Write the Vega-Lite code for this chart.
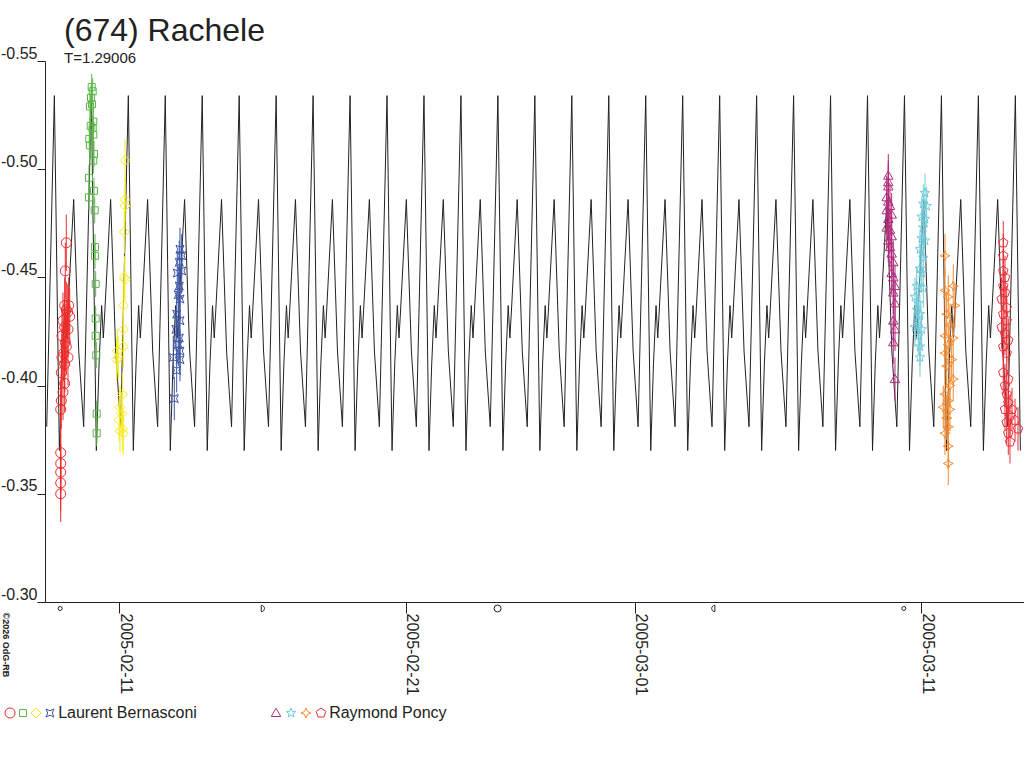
{
  "$schema": "https://vega.github.io/schema/vega-lite/v6.json",
  "width": 979,
  "height": 541,
  "padding": {"left": 0, "top": 15, "right": 0, "bottom": 0},
  "background": "white",
  "title": {
    "text": "(674) Rachele",
    "subtitle": "T=1.29006",
    "anchor": "start",
    "frame": "group",
    "dx": 19,
    "offset": -22,
    "fontSize": 32,
    "fontWeight": "normal",
    "color": "#222",
    "subtitleFontSize": 15,
    "subtitleColor": "#222",
    "subtitlePadding": 3
  },
  "datasets": {
    "model": [
      {"t": 9.967, "v": -0.381},
      {"t": 10.234, "v": -0.534}, {"t": 10.409, "v": -0.370}, {"t": 10.504, "v": -0.410}, {"t": 10.594, "v": -0.437}, {"t": 10.653, "v": -0.422}, {"t": 10.704, "v": -0.434}, {"t": 10.908, "v": -0.486}, {"t": 11.084, "v": -0.416}, {"t": 11.257, "v": -0.381},
      {"t": 11.524, "v": -0.534}, {"t": 11.699, "v": -0.370}, {"t": 11.794, "v": -0.410}, {"t": 11.884, "v": -0.437}, {"t": 11.943, "v": -0.422}, {"t": 11.994, "v": -0.434}, {"t": 12.198, "v": -0.486}, {"t": 12.374, "v": -0.416}, {"t": 12.547, "v": -0.381},
      {"t": 12.815, "v": -0.534}, {"t": 12.990, "v": -0.370}, {"t": 13.085, "v": -0.410}, {"t": 13.175, "v": -0.437}, {"t": 13.234, "v": -0.422}, {"t": 13.285, "v": -0.434}, {"t": 13.489, "v": -0.486}, {"t": 13.665, "v": -0.416}, {"t": 13.838, "v": -0.381},
      {"t": 14.105, "v": -0.534}, {"t": 14.280, "v": -0.370}, {"t": 14.375, "v": -0.410}, {"t": 14.465, "v": -0.437}, {"t": 14.524, "v": -0.422}, {"t": 14.575, "v": -0.434}, {"t": 14.779, "v": -0.486}, {"t": 14.955, "v": -0.416}, {"t": 15.128, "v": -0.381},
      {"t": 15.395, "v": -0.534}, {"t": 15.570, "v": -0.370}, {"t": 15.665, "v": -0.410}, {"t": 15.755, "v": -0.437}, {"t": 15.814, "v": -0.422}, {"t": 15.865, "v": -0.434}, {"t": 16.069, "v": -0.486}, {"t": 16.245, "v": -0.416}, {"t": 16.418, "v": -0.381},
      {"t": 16.685, "v": -0.534}, {"t": 16.860, "v": -0.370}, {"t": 16.955, "v": -0.410}, {"t": 17.045, "v": -0.437}, {"t": 17.104, "v": -0.422}, {"t": 17.155, "v": -0.434}, {"t": 17.359, "v": -0.486}, {"t": 17.535, "v": -0.416}, {"t": 17.708, "v": -0.381},
      {"t": 17.975, "v": -0.534}, {"t": 18.150, "v": -0.370}, {"t": 18.245, "v": -0.410}, {"t": 18.335, "v": -0.437}, {"t": 18.394, "v": -0.422}, {"t": 18.445, "v": -0.434}, {"t": 18.649, "v": -0.486}, {"t": 18.825, "v": -0.416}, {"t": 18.998, "v": -0.381},
      {"t": 19.265, "v": -0.534}, {"t": 19.440, "v": -0.370}, {"t": 19.535, "v": -0.410}, {"t": 19.625, "v": -0.437}, {"t": 19.684, "v": -0.422}, {"t": 19.735, "v": -0.434}, {"t": 19.939, "v": -0.486}, {"t": 20.115, "v": -0.416}, {"t": 20.288, "v": -0.381},
      {"t": 20.555, "v": -0.534}, {"t": 20.730, "v": -0.370}, {"t": 20.825, "v": -0.410}, {"t": 20.915, "v": -0.437}, {"t": 20.974, "v": -0.422}, {"t": 21.025, "v": -0.434}, {"t": 21.229, "v": -0.486}, {"t": 21.405, "v": -0.416}, {"t": 21.578, "v": -0.381},
      {"t": 21.845, "v": -0.534}, {"t": 22.020, "v": -0.370}, {"t": 22.115, "v": -0.410}, {"t": 22.205, "v": -0.437}, {"t": 22.264, "v": -0.422}, {"t": 22.315, "v": -0.434}, {"t": 22.519, "v": -0.486}, {"t": 22.695, "v": -0.416}, {"t": 22.868, "v": -0.381},
      {"t": 23.135, "v": -0.534}, {"t": 23.310, "v": -0.370}, {"t": 23.405, "v": -0.410}, {"t": 23.495, "v": -0.437}, {"t": 23.554, "v": -0.422}, {"t": 23.605, "v": -0.434}, {"t": 23.809, "v": -0.486}, {"t": 23.985, "v": -0.416}, {"t": 24.158, "v": -0.381},
      {"t": 24.425, "v": -0.534}, {"t": 24.600, "v": -0.370}, {"t": 24.695, "v": -0.410}, {"t": 24.785, "v": -0.437}, {"t": 24.844, "v": -0.422}, {"t": 24.895, "v": -0.434}, {"t": 25.099, "v": -0.486}, {"t": 25.275, "v": -0.416}, {"t": 25.448, "v": -0.381},
      {"t": 25.715, "v": -0.534}, {"t": 25.890, "v": -0.370}, {"t": 25.985, "v": -0.410}, {"t": 26.075, "v": -0.437}, {"t": 26.134, "v": -0.422}, {"t": 26.185, "v": -0.434}, {"t": 26.389, "v": -0.486}, {"t": 26.565, "v": -0.416}, {"t": 26.738, "v": -0.381},
      {"t": 27.005, "v": -0.534}, {"t": 27.180, "v": -0.370}, {"t": 27.275, "v": -0.410}, {"t": 27.365, "v": -0.437}, {"t": 27.424, "v": -0.422}, {"t": 27.475, "v": -0.434}, {"t": 27.679, "v": -0.486}, {"t": 27.855, "v": -0.416}, {"t": 28.028, "v": -0.381},
      {"t": 28.295, "v": -0.534}, {"t": 28.470, "v": -0.370}, {"t": 28.565, "v": -0.410}, {"t": 28.655, "v": -0.437}, {"t": 28.714, "v": -0.422}, {"t": 28.765, "v": -0.434}, {"t": 28.969, "v": -0.486}, {"t": 29.145, "v": -0.416}, {"t": 29.318, "v": -0.381},
      {"t": 29.585, "v": -0.534}, {"t": 29.760, "v": -0.370}, {"t": 29.855, "v": -0.410}, {"t": 29.945, "v": -0.437}, {"t": 30.004, "v": -0.422}, {"t": 30.055, "v": -0.434}, {"t": 30.259, "v": -0.486}, {"t": 30.435, "v": -0.416}, {"t": 30.608, "v": -0.381},
      {"t": 30.875, "v": -0.534}, {"t": 31.050, "v": -0.370}, {"t": 31.145, "v": -0.410}, {"t": 31.235, "v": -0.437}, {"t": 31.294, "v": -0.422}, {"t": 31.345, "v": -0.434}, {"t": 31.549, "v": -0.486}, {"t": 31.725, "v": -0.416}, {"t": 31.898, "v": -0.381},
      {"t": 32.165, "v": -0.534}, {"t": 32.340, "v": -0.370}, {"t": 32.435, "v": -0.410}, {"t": 32.525, "v": -0.437}, {"t": 32.584, "v": -0.422}, {"t": 32.635, "v": -0.434}, {"t": 32.839, "v": -0.486}, {"t": 33.015, "v": -0.416}, {"t": 33.188, "v": -0.381},
      {"t": 33.456, "v": -0.534}, {"t": 33.631, "v": -0.370}, {"t": 33.726, "v": -0.410}, {"t": 33.816, "v": -0.437}, {"t": 33.875, "v": -0.422}, {"t": 33.926, "v": -0.434}, {"t": 34.130, "v": -0.486}, {"t": 34.306, "v": -0.416}, {"t": 34.479, "v": -0.381},
      {"t": 34.746, "v": -0.534}, {"t": 34.921, "v": -0.370}, {"t": 35.016, "v": -0.410}, {"t": 35.106, "v": -0.437}, {"t": 35.165, "v": -0.422}, {"t": 35.216, "v": -0.434}, {"t": 35.420, "v": -0.486}, {"t": 35.596, "v": -0.416}, {"t": 35.769, "v": -0.381},
      {"t": 36.036, "v": -0.534}, {"t": 36.211, "v": -0.370}, {"t": 36.306, "v": -0.410}, {"t": 36.396, "v": -0.437}, {"t": 36.455, "v": -0.422}, {"t": 36.506, "v": -0.434}, {"t": 36.710, "v": -0.486}, {"t": 36.886, "v": -0.416}, {"t": 37.059, "v": -0.381},
      {"t": 37.326, "v": -0.534}, {"t": 37.501, "v": -0.370}, {"t": 37.596, "v": -0.410}, {"t": 37.686, "v": -0.437}, {"t": 37.745, "v": -0.422}, {"t": 37.796, "v": -0.434}, {"t": 38.000, "v": -0.486}, {"t": 38.176, "v": -0.416}, {"t": 38.349, "v": -0.381},
      {"t": 38.616, "v": -0.534}, {"t": 38.791, "v": -0.370}, {"t": 38.886, "v": -0.410}, {"t": 38.976, "v": -0.437}, {"t": 39.035, "v": -0.422}, {"t": 39.086, "v": -0.434}, {"t": 39.290, "v": -0.486}, {"t": 39.466, "v": -0.416}, {"t": 39.639, "v": -0.381},
      {"t": 39.906, "v": -0.534}, {"t": 40.081, "v": -0.370}, {"t": 40.176, "v": -0.410}, {"t": 40.266, "v": -0.437}, {"t": 40.325, "v": -0.422}, {"t": 40.376, "v": -0.434}, {"t": 40.580, "v": -0.486}, {"t": 40.756, "v": -0.416}, {"t": 40.929, "v": -0.381},
      {"t": 41.196, "v": -0.534}, {"t": 41.371, "v": -0.370}, {"t": 41.466, "v": -0.410}, {"t": 41.556, "v": -0.437}, {"t": 41.615, "v": -0.422}, {"t": 41.666, "v": -0.434}, {"t": 41.870, "v": -0.486}, {"t": 42.046, "v": -0.416}, {"t": 42.219, "v": -0.381},
      {"t": 42.486, "v": -0.534}, {"t": 42.661, "v": -0.370}, {"t": 42.756, "v": -0.410}, {"t": 42.846, "v": -0.437}, {"t": 42.905, "v": -0.422}, {"t": 42.956, "v": -0.434}, {"t": 43.160, "v": -0.486}, {"t": 43.336, "v": -0.416}, {"t": 43.509, "v": -0.381},
      {"t": 43.776, "v": -0.534}, {"t": 43.951, "v": -0.370}
    ],
    "obs": [
      {"s": "LB1", "t": 10.455, "v": -0.350},
      {"s": "LB1", "t": 10.455, "v": -0.355},
      {"s": "LB1", "t": 10.455, "v": -0.360},
      {"s": "LB1", "t": 10.455, "v": -0.364},
      {"s": "LB1", "t": 10.455, "v": -0.369},
      {"s": "LB1", "t": 10.455, "v": -0.389},
      {"s": "LB1", "t": 10.476, "v": -0.393},
      {"s": "LB1", "t": 10.535, "v": -0.397},
      {"s": "LB1", "t": 10.594, "v": -0.401},
      {"s": "LB1", "t": 10.476, "v": -0.406},
      {"s": "LB1", "t": 10.594, "v": -0.410},
      {"s": "LB1", "t": 10.500, "v": -0.413},
      {"s": "LB1", "t": 10.709, "v": -0.413},
      {"s": "LB1", "t": 10.560, "v": -0.415},
      {"s": "LB1", "t": 10.650, "v": -0.418},
      {"s": "LB1", "t": 10.620, "v": -0.420},
      {"s": "LB1", "t": 10.500, "v": -0.423},
      {"s": "LB1", "t": 10.709, "v": -0.426},
      {"s": "LB1", "t": 10.594, "v": -0.427},
      {"s": "LB1", "t": 10.535, "v": -0.430},
      {"s": "LB1", "t": 10.769, "v": -0.432},
      {"s": "LB1", "t": 10.700, "v": -0.434},
      {"s": "LB1", "t": 10.650, "v": -0.435},
      {"s": "LB1", "t": 10.734, "v": -0.437},
      {"s": "LB1", "t": 10.594, "v": -0.437},
      {"s": "LB1", "t": 10.615, "v": -0.453},
      {"s": "LB1", "t": 10.650, "v": -0.466},
      {"s": "LB2", "t": 11.537, "v": -0.538},
      {"s": "LB2", "t": 11.572, "v": -0.536},
      {"s": "LB2", "t": 11.512, "v": -0.533},
      {"s": "LB2", "t": 11.547, "v": -0.530},
      {"s": "LB2", "t": 11.477, "v": -0.529},
      {"s": "LB2", "t": 11.593, "v": -0.522},
      {"s": "LB2", "t": 11.502, "v": -0.520},
      {"s": "LB2", "t": 11.572, "v": -0.519},
      {"s": "LB2", "t": 11.593, "v": -0.516},
      {"s": "LB2", "t": 11.453, "v": -0.514},
      {"s": "LB2", "t": 11.477, "v": -0.511},
      {"s": "LB2", "t": 11.617, "v": -0.507},
      {"s": "LB2", "t": 11.593, "v": -0.504},
      {"s": "LB2", "t": 11.442, "v": -0.496},
      {"s": "LB2", "t": 11.617, "v": -0.490},
      {"s": "LB2", "t": 11.442, "v": -0.487},
      {"s": "LB2", "t": 11.641, "v": -0.481},
      {"s": "LB2", "t": 11.652, "v": -0.464},
      {"s": "LB2", "t": 11.652, "v": -0.460},
      {"s": "LB2", "t": 11.676, "v": -0.447},
      {"s": "LB2", "t": 11.676, "v": -0.431},
      {"s": "LB2", "t": 11.676, "v": -0.423},
      {"s": "LB2", "t": 11.697, "v": -0.414},
      {"s": "LB2", "t": 11.711, "v": -0.387},
      {"s": "LB2", "t": 11.711, "v": -0.378},
      {"s": "LB3", "t": 12.699, "v": -0.504},
      {"s": "LB3", "t": 12.699, "v": -0.486},
      {"s": "LB3", "t": 12.699, "v": -0.483},
      {"s": "LB3", "t": 12.675, "v": -0.471},
      {"s": "LB3", "t": 12.675, "v": -0.450},
      {"s": "LB3", "t": 12.699, "v": -0.449},
      {"s": "LB3", "t": 12.640, "v": -0.437},
      {"s": "LB3", "t": 12.640, "v": -0.426},
      {"s": "LB3", "t": 12.640, "v": -0.418},
      {"s": "LB3", "t": 12.430, "v": -0.416},
      {"s": "LB3", "t": 12.465, "v": -0.413},
      {"s": "LB3", "t": 12.409, "v": -0.412},
      {"s": "LB3", "t": 12.605, "v": -0.396},
      {"s": "LB3", "t": 12.524, "v": -0.390},
      {"s": "LB3", "t": 12.584, "v": -0.387},
      {"s": "LB3", "t": 12.500, "v": -0.384},
      {"s": "LB3", "t": 12.605, "v": -0.380},
      {"s": "LB3", "t": 12.524, "v": -0.379},
      {"s": "LB3", "t": 12.640, "v": -0.378},
      {"s": "LB4", "t": 14.619, "v": -0.463},
      {"s": "LB4", "t": 14.678, "v": -0.460},
      {"s": "LB4", "t": 14.594, "v": -0.457},
      {"s": "LB4", "t": 14.524, "v": -0.452},
      {"s": "LB4", "t": 14.678, "v": -0.453},
      {"s": "LB4", "t": 14.594, "v": -0.446},
      {"s": "LB4", "t": 14.559, "v": -0.442},
      {"s": "LB4", "t": 14.619, "v": -0.440},
      {"s": "LB4", "t": 14.503, "v": -0.433},
      {"s": "LB4", "t": 14.619, "v": -0.430},
      {"s": "LB4", "t": 14.479, "v": -0.426},
      {"s": "LB4", "t": 14.594, "v": -0.422},
      {"s": "LB4", "t": 14.559, "v": -0.419},
      {"s": "LB4", "t": 14.619, "v": -0.416},
      {"s": "LB4", "t": 14.385, "v": -0.413},
      {"s": "LB4", "t": 14.619, "v": -0.412},
      {"s": "LB4", "t": 14.503, "v": -0.407},
      {"s": "LB4", "t": 14.420, "v": -0.394},
      {"s": "RP1", "t": 39.341, "v": -0.497},
      {"s": "RP1", "t": 39.341, "v": -0.494},
      {"s": "RP1", "t": 39.341, "v": -0.492},
      {"s": "RP1", "t": 39.285, "v": -0.487},
      {"s": "RP1", "t": 39.341, "v": -0.485},
      {"s": "RP1", "t": 39.400, "v": -0.483},
      {"s": "RP1", "t": 39.285, "v": -0.481},
      {"s": "RP1", "t": 39.459, "v": -0.479},
      {"s": "RP1", "t": 39.341, "v": -0.477},
      {"s": "RP1", "t": 39.285, "v": -0.473},
      {"s": "RP1", "t": 39.400, "v": -0.472},
      {"s": "RP1", "t": 39.459, "v": -0.469},
      {"s": "RP1", "t": 39.341, "v": -0.467},
      {"s": "RP1", "t": 39.400, "v": -0.464},
      {"s": "RP1", "t": 39.459, "v": -0.461},
      {"s": "RP1", "t": 39.515, "v": -0.457},
      {"s": "RP1", "t": 39.459, "v": -0.452},
      {"s": "RP1", "t": 39.515, "v": -0.450},
      {"s": "RP1", "t": 39.575, "v": -0.446},
      {"s": "RP1", "t": 39.515, "v": -0.443},
      {"s": "RP1", "t": 39.575, "v": -0.438},
      {"s": "RP1", "t": 39.515, "v": -0.430},
      {"s": "RP1", "t": 39.575, "v": -0.426},
      {"s": "RP1", "t": 39.515, "v": -0.420},
      {"s": "RP1", "t": 39.575, "v": -0.403},
      {"s": "RP2", "t": 40.622, "v": -0.489},
      {"s": "RP2", "t": 40.563, "v": -0.484},
      {"s": "RP2", "t": 40.681, "v": -0.483},
      {"s": "RP2", "t": 40.507, "v": -0.478},
      {"s": "RP2", "t": 40.622, "v": -0.477},
      {"s": "RP2", "t": 40.563, "v": -0.473},
      {"s": "RP2", "t": 40.507, "v": -0.468},
      {"s": "RP2", "t": 40.622, "v": -0.467},
      {"s": "RP2", "t": 40.447, "v": -0.463},
      {"s": "RP2", "t": 40.563, "v": -0.459},
      {"s": "RP2", "t": 40.447, "v": -0.454},
      {"s": "RP2", "t": 40.507, "v": -0.452},
      {"s": "RP2", "t": 40.332, "v": -0.446},
      {"s": "RP2", "t": 40.563, "v": -0.445},
      {"s": "RP2", "t": 40.273, "v": -0.441},
      {"s": "RP2", "t": 40.388, "v": -0.438},
      {"s": "RP2", "t": 40.332, "v": -0.435},
      {"s": "RP2", "t": 40.447, "v": -0.433},
      {"s": "RP2", "t": 40.388, "v": -0.430},
      {"s": "RP2", "t": 40.273, "v": -0.427},
      {"s": "RP2", "t": 40.507, "v": -0.426},
      {"s": "RP2", "t": 40.388, "v": -0.423},
      {"s": "RP2", "t": 40.447, "v": -0.418},
      {"s": "RP2", "t": 40.447, "v": -0.413},
      {"s": "RP3", "t": 41.320, "v": -0.460},
      {"s": "RP3", "t": 41.609, "v": -0.446},
      {"s": "RP3", "t": 41.320, "v": -0.444},
      {"s": "RP3", "t": 41.435, "v": -0.441},
      {"s": "RP3", "t": 41.669, "v": -0.437},
      {"s": "RP3", "t": 41.379, "v": -0.433},
      {"s": "RP3", "t": 41.494, "v": -0.428},
      {"s": "RP3", "t": 41.320, "v": -0.423},
      {"s": "RP3", "t": 41.609, "v": -0.422},
      {"s": "RP3", "t": 41.435, "v": -0.419},
      {"s": "RP3", "t": 41.320, "v": -0.415},
      {"s": "RP3", "t": 41.553, "v": -0.412},
      {"s": "RP3", "t": 41.379, "v": -0.409},
      {"s": "RP3", "t": 41.609, "v": -0.403},
      {"s": "RP3", "t": 41.494, "v": -0.400},
      {"s": "RP3", "t": 41.320, "v": -0.396},
      {"s": "RP3", "t": 41.435, "v": -0.393},
      {"s": "RP3", "t": 41.261, "v": -0.390},
      {"s": "RP3", "t": 41.494, "v": -0.389},
      {"s": "RP3", "t": 41.379, "v": -0.385},
      {"s": "RP3", "t": 41.435, "v": -0.381},
      {"s": "RP3", "t": 41.320, "v": -0.378},
      {"s": "RP3", "t": 41.435, "v": -0.372},
      {"s": "RP3", "t": 41.435, "v": -0.364},
      {"s": "RP4", "t": 43.355, "v": -0.466},
      {"s": "RP4", "t": 43.355, "v": -0.460},
      {"s": "RP4", "t": 43.355, "v": -0.453},
      {"s": "RP4", "t": 43.414, "v": -0.450},
      {"s": "RP4", "t": 43.355, "v": -0.446},
      {"s": "RP4", "t": 43.414, "v": -0.443},
      {"s": "RP4", "t": 43.299, "v": -0.440},
      {"s": "RP4", "t": 43.474, "v": -0.436},
      {"s": "RP4", "t": 43.355, "v": -0.433},
      {"s": "RP4", "t": 43.474, "v": -0.430},
      {"s": "RP4", "t": 43.299, "v": -0.427},
      {"s": "RP4", "t": 43.414, "v": -0.424},
      {"s": "RP4", "t": 43.530, "v": -0.421},
      {"s": "RP4", "t": 43.355, "v": -0.418},
      {"s": "RP4", "t": 43.474, "v": -0.415},
      {"s": "RP4", "t": 43.355, "v": -0.406},
      {"s": "RP4", "t": 43.530, "v": -0.403},
      {"s": "RP4", "t": 43.414, "v": -0.400},
      {"s": "RP4", "t": 43.474, "v": -0.396},
      {"s": "RP4", "t": 43.530, "v": -0.392},
      {"s": "RP4", "t": 43.414, "v": -0.389},
      {"s": "RP4", "t": 43.589, "v": -0.386},
      {"s": "RP4", "t": 43.474, "v": -0.383},
      {"s": "RP4", "t": 43.530, "v": -0.378},
      {"s": "RP4", "t": 43.589, "v": -0.374},
      {"s": "RP4", "t": 43.659, "v": -0.389},
      {"s": "RP4", "t": 43.764, "v": -0.384},
      {"s": "RP4", "t": 43.868, "v": -0.380}
    ],
    "moon": [
      {"t": 10.436, "phase": "new"},
      {"t": 17.511, "phase": "first"},
      {"t": 25.704, "phase": "full"},
      {"t": 33.233, "phase": "last"},
      {"t": 39.882, "phase": "new"}
    ]
  },
  "encoding": {
    "x": {
      "field": "t",
      "type": "quantitative",
      "scale": {"domain": [9.907, 44.078], "nice": false, "zero": false},
      "axis": {
        "title": null,
        "values": [12.5, 22.5, 30.5, 40.5],
        "labelExpr": "timeFormat(datetime(2005, 1, datum.value - 1.5), '%Y-%m-%d')",
        "labelAngle": 90,
        "labelAlign": "left",
        "labelBaseline": "alphabetic",
        "labelOffset": 1,
        "labelPadding": 0,
        "labelFontSize": 16,
        "labelFlush": false,
        "labelOverlap": false,
        "tickSize": 11
      }
    }
  },
  "layer": [
    {
      "data": {"name": "model"},
      "mark": {"type": "line", "color": "#222", "strokeWidth": 1, "interpolate": "linear"},
      "encoding": {
        "y": {
          "field": "v",
          "type": "quantitative",
          "title": "©2026 OdG-RB",
          "scale": {"domain": [-0.55, -0.30], "reverse": true, "nice": false, "zero": false},
          "axis": {
            "values": [-0.55, -0.5, -0.45, -0.4, -0.35, -0.3],
            "labelExpr": "replace(format(datum.value, '.2f'), '\u2212', '-')",
            "tickSize": 8,
            "labelPadding": 0,
            "labelBaseline": "bottom",
            "labelFontSize": 16,
            "labelFlush": false,
            "labelOverlap": false,
            "titleAngle": 90,
            "titleX": -45,
            "titleY": 551,
            "titleAlign": "left",
            "titleBaseline": "bottom",
            "titleFontSize": 9,
            "titleFontWeight": "bold"
          }
        }
      }
    },
    {
      "data": {"name": "obs"},
      "transform": [
        {
          "lookup": "s",
          "from": {
            "data": {"values": [
              {"s": "LB1", "e": 0.013}, {"s": "LB2", "e": 0.006}, {"s": "LB3", "e": 0.010}, {"s": "LB4", "e": 0.010},
              {"s": "RP1", "e": 0.010}, {"s": "RP2", "e": 0.009}, {"s": "RP3", "e": 0.010}, {"s": "RP4", "e": 0.010}
            ]},
            "key": "s",
            "fields": ["e"]
          }
        }
      ],
      "mark": {"type": "errorbar", "ticks": false, "rule": {"strokeWidth": 1}},
      "encoding": {
        "y": {"field": "v", "type": "quantitative", "title": "©2026 OdG-RB"},
        "yError": {"field": "e"},
        "color": {
          "field": "s",
          "type": "nominal",
          "scale": {
            "domain": ["LB1", "LB2", "LB3", "LB4", "RP1", "RP2", "RP3", "RP4"],
            "range": ["#ee2b2b", "#5ab848", "#f7ec1c", "#3b54a4", "#b32c7c", "#6fcad8", "#f58a2e", "#ee2e36"]
          },
          "legend": {
            "orient": "none", "legendX": -40.5, "legendY": 644, "direction": "horizontal", "title": null,
            "columnPadding": 0, "labelOffset": -4.3, "symbolOffset": -2.5, "symbolSize": 100, "symbolStrokeWidth": 1,
            "labelFontSize": 16, "labelColor": "#222", "labelLimit": 0,
            "labelExpr": "datum.label == 'LB4' ? '\u200b\u00a0Laurent Bernasconi\u00a0\u00a0\u00a0\u00a0\u00a0\u00a0\u00a0\u00a0\u00a0\u00a0\u00a0\u00a0\u00a0\u00a0\u00a0\u00a0\u200b' : datum.label == 'RP4' ? '\u200b\u00a0Raymond Poncy' : ''"
          }
        }
      }
    },
    {
      "data": {"name": "obs"},
      "mark": {"type": "point", "filled": false, "strokeWidth": 1, "opacity": 1, "size": 100},
      "encoding": {
        "y": {"field": "v", "type": "quantitative", "title": "©2026 OdG-RB"},
        "color": {
          "field": "s",
          "type": "nominal",
          "scale": {
            "domain": ["LB1", "LB2", "LB3", "LB4", "RP1", "RP2", "RP3", "RP4"],
            "range": ["#ee2b2b", "#5ab848", "#f7ec1c", "#3b54a4", "#b32c7c", "#6fcad8", "#f58a2e", "#ee2e36"]
          },
          "legend": {
            "orient": "none", "legendX": -40.5, "legendY": 644, "direction": "horizontal", "title": null,
            "columnPadding": 0, "labelOffset": -4.3, "symbolOffset": -2.5, "symbolSize": 100, "symbolStrokeWidth": 1,
            "labelFontSize": 16, "labelColor": "#222", "labelLimit": 0,
            "labelExpr": "datum.label == 'LB4' ? '\u200b\u00a0Laurent Bernasconi\u00a0\u00a0\u00a0\u00a0\u00a0\u00a0\u00a0\u00a0\u00a0\u00a0\u00a0\u00a0\u00a0\u00a0\u00a0\u00a0\u200b' : datum.label == 'RP4' ? '\u200b\u00a0Raymond Poncy' : ''"
          }
        },
        "shape": {
          "field": "s",
          "type": "nominal",
          "scale": {
            "domain": ["LB1", "LB2", "LB3", "LB4", "RP1", "RP2", "RP3", "RP4"],
            "range": [
              "circle",
              "M-0.7,-0.7L0.7,-0.7L0.7,0.7L-0.7,0.7Z",
              "M0,-1L1,0L0,1L-1,0Z",
              "M-0.8,-0.8L0,-0.45L0.8,-0.8L0.45,0L0.8,0.8L0,0.45L-0.8,0.8L-0.45,0Z",
              "M0,-0.95L0.95,0.7L-0.95,0.7Z",
              "M0,-1L0.247,-0.34L0.951,-0.309L0.399,0.13L0.588,0.809L0,0.42L-0.588,0.809L-0.399,0.13L-0.951,-0.309L-0.247,-0.34Z",
              "M0,-1L0.3,-0.3L1,0L0.3,0.3L0,1L-0.3,0.3L-1,0L-0.3,-0.3Z",
              "M0,-1L0.951,-0.309L0.588,0.809L-0.588,0.809L-0.951,-0.309Z"
            ]
          },
          "legend": {
            "orient": "none", "legendX": -40.5, "legendY": 644, "direction": "horizontal", "title": null,
            "columnPadding": 0, "labelOffset": -4.3, "symbolOffset": -2.5, "symbolSize": 100, "symbolStrokeWidth": 1,
            "labelFontSize": 16, "labelColor": "#222", "labelLimit": 0,
            "labelExpr": "datum.label == 'LB4' ? '\u200b\u00a0Laurent Bernasconi\u00a0\u00a0\u00a0\u00a0\u00a0\u00a0\u00a0\u00a0\u00a0\u00a0\u00a0\u00a0\u00a0\u00a0\u00a0\u00a0\u200b' : datum.label == 'RP4' ? '\u200b\u00a0Raymond Poncy' : ''"
          }
        }
      }
    },
    {
      "data": {"name": "moon"},
      "transform": [{"filter": "datum.phase == 'new'"}],
      "mark": {"type": "point", "shape": "circle", "filled": false, "color": "#222", "strokeWidth": 1, "opacity": 1, "size": 16},
      "encoding": {"y": {"datum": -0.297}}
    },
    {
      "data": {"name": "moon"},
      "transform": [{"filter": "datum.phase == 'full'"}],
      "mark": {"type": "point", "shape": "circle", "filled": false, "color": "#222", "strokeWidth": 1, "opacity": 1, "size": 49},
      "encoding": {"y": {"datum": -0.297}}
    },
    {
      "data": {"name": "moon"},
      "transform": [{"filter": "datum.phase == 'first'"}],
      "mark": {"type": "point", "shape": "M-0.4,-0.8L-0.4,0.8A0.8,0.8 0 0,0 -0.4,-0.8Z", "filled": false, "color": "#222", "strokeWidth": 1, "opacity": 1, "size": 64},
      "encoding": {"y": {"datum": -0.297}}
    },
    {
      "data": {"name": "moon"},
      "transform": [{"filter": "datum.phase == 'last'"}],
      "mark": {"type": "point", "shape": "M0.4,-0.8L0.4,0.8A0.8,0.8 0 0,1 0.4,-0.8Z", "filled": false, "color": "#222", "strokeWidth": 1, "opacity": 1, "size": 64},
      "encoding": {"y": {"datum": -0.297}}
    }
  ],
  "config": {
    "font": "Liberation Sans",
    "view": {"stroke": null},
    "axis": {
      "grid": false,
      "domainColor": "#222",
      "domainWidth": 1,
      "tickColor": "#222",
      "tickWidth": 1,
      "labelColor": "#222",
      "titleColor": "#222"
    }
  }
}
